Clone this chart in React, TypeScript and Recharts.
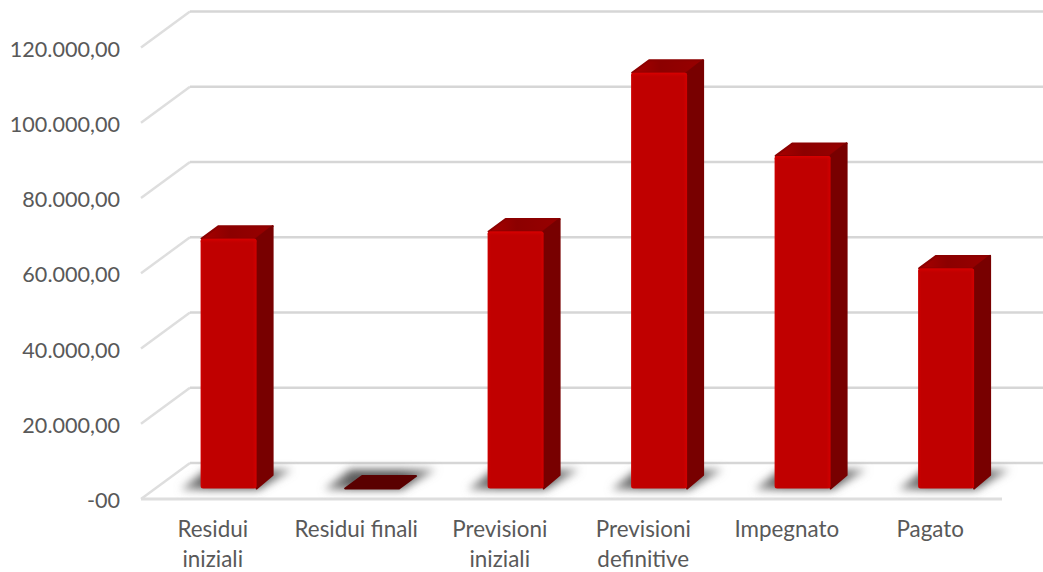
import { BarChart, Bar, XAxis, YAxis, CartesianGrid } from "recharts";

const categories = ["Residui\niniziali", "Residui finali", "Previsioni\niniziali", "Previsioni\ndefinitive", "Impegnato", "Pagato"];
const importi = [66400, 0, 68300, 110500, 88400, 58500];
const yTicks = [0, 20000, 40000, 60000, 80000, 100000, 120000];

const data = categories.map((name, i) => ({ name, importo: importi[i] }));

const WALL_DX = 49;
const WALL_DY = -36;
const DEPTH_DX = 17;
const DEPTH_DY = -13.5;
const BAR_DX = 15.6;
const BAR_DY = -10.5;

const formatTick = (v: number) =>
  v === 0 ? "-00" : `${(v / 1000).toFixed(0)}.000,00`;

function gridLine(props: any) {
  const { x1, x2, y1, index } = props;
  const backX = x1 + WALL_DX;
  const backY = y1 + WALL_DY;
  const isFloor = Math.abs(y1 - 499) < 1;
  return (
    <g key={index}>
      <line x1={x1} y1={y1} x2={backX} y2={backY} stroke="#dedede" strokeWidth={2.4} />
      <line x1={backX} y1={backY} x2={x2 + WALL_DX} y2={backY} stroke="#d6d6d6" strokeWidth={2.6} />
      {isFloor && <line x1={x1} y1={y1} x2={x2} y2={y1} stroke="#dedede" strokeWidth={3} />}
    </g>
  );
}

function Bar3D(props: any) {
  const { x, y, width, height } = props;
  const left = x + BAR_DX;
  const right = left + width;
  const top = y + BAR_DY;
  const base = top + height;
  const shadow = `${left - 20},${base + 1} ${right + 2},${base + 1} ${right + 36},${base - 19} ${left + 6},${base - 19}`;
  const topFace = `${left + 1},${top} ${right - 1},${top} ${right + DEPTH_DX - 1},${top + DEPTH_DY + 1} ${left + DEPTH_DX + 1},${top + DEPTH_DY + 1}`;
  if (height < 1) {
    return (
      <g>
        <polygon points={shadow} fill="url(#floorFade)" filter="url(#floorShadow)" />
        <polygon points={topFace} fill="#5a0000" stroke="#5a0000" strokeWidth={2} strokeLinejoin="round" />
      </g>
    );
  }
  const side = `${right},${top} ${right + DEPTH_DX - 1},${top + DEPTH_DY + 1} ${right + DEPTH_DX - 1},${base + DEPTH_DY} ${right},${base}`;
  return (
    <g>
      <polygon points={shadow} fill="url(#floorFade)" filter="url(#floorShadow)" />
      <polygon points={topFace} fill="url(#topFace)" stroke="#8c0000" strokeWidth={2} strokeLinejoin="round" />
      <polygon points={side} fill="#780000" stroke="#780000" strokeWidth={2} strokeLinejoin="round" />
      <rect x={left} y={top} width={width} height={height} rx={2.5} fill="url(#frontFace)" />
      <rect x={left} y={top} width={width} height={5} rx={2.5} fill="url(#frontBevel)" />
    </g>
  );
}

export default function App() {
  return (
    <div style={{ position: "absolute", left: 0, top: 0 }}>
      <BarChart
        width={1043}
        height={572}
        data={data}
        margin={{ top: 47.5, right: 41, left: 0, bottom: 0 }}
      >
        <defs>
          <linearGradient id="frontFace" x1="0" y1="0" x2="1" y2="0">
            <stop offset="0" stopColor="#cc0000" />
            <stop offset="0.06" stopColor="#c00000" />
            <stop offset="0.93" stopColor="#c00000" />
            <stop offset="1" stopColor="#d20000" />
          </linearGradient>
          <linearGradient id="frontBevel" x1="0" y1="0" x2="0" y2="1">
            <stop offset="0" stopColor="#dc0000" />
            <stop offset="1" stopColor="#c00000" stopOpacity={0} />
          </linearGradient>
          <linearGradient id="topFace" x1="0" y1="0" x2="1" y2="0">
            <stop offset="0" stopColor="#a80000" />
            <stop offset="0.4" stopColor="#8c0000" />
            <stop offset="1" stopColor="#980000" />
          </linearGradient>
          <linearGradient id="floorFade" x1="0" y1="0" x2="1" y2="0">
            <stop offset="0" stopColor="#9a9a9a" />
            <stop offset="0.25" stopColor="#5c5c5c" />
            <stop offset="0.7" stopColor="#5c5c5c" />
            <stop offset="1" stopColor="#a0a0a0" />
          </linearGradient>
          <filter id="floorShadow" x="-30%" y="-80%" width="160%" height="260%">
            <feGaussianBlur stdDeviation="4" />
          </filter>
        </defs>
        <CartesianGrid horizontal={gridLine} vertical={false} />
        <XAxis
          dataKey="name"
          height={73}
          interval={0}
          axisLine={false}
          tickLine={false}
          tick={(p: any) => (
            <text x={p.x} y={p.y} textAnchor="middle" fill="#595959" fontFamily="Lato" fontSize={22.4}>
              {String(p.payload.value).split("\n").map((line, i) => (
                <tspan key={i} x={p.x} y={537 + i * 30}>{line}</tspan>
              ))}
            </text>
          )}
        />
        <YAxis
          width={141}
          domain={[0, 120000]}
          ticks={yTicks}
          interval={0}
          tickFormatter={formatTick}
          axisLine={false}
          tickLine={false}
          tickSize={0}
          tickMargin={21}
          tick={{ fill: "#595959", fontFamily: "Lato", fontSize: 21.6, dy: 1.5 }}
        />
        <Bar dataKey="importo" barSize={56} shape={Bar3D} isAnimationActive={false} />
      </BarChart>
    </div>
  );
}
